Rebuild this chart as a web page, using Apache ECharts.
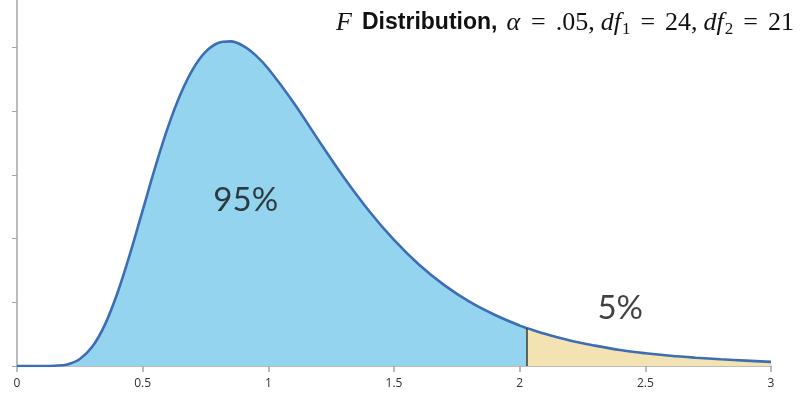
<!DOCTYPE html>
<html>
<head>
<meta charset="utf-8">
<script src="https://cdn.jsdelivr.net/npm/echarts@6/dist/echarts.min.js"></script>
<style>
html,body{margin:0;padding:0;background:#fff;}
#chart{width:803px;height:396px;}
</style>
</head>
<body>
<div id="chart"></div>
<script>
// F distribution density (df1 = 24, df2 = 21)
var xValues = [0, 0.1, 0.15, 0.2, 0.25, 0.3, 0.35, 0.4, 0.45, 0.5, 0.55, 0.6, 0.65, 0.7, 0.75, 0.8, 0.85, 0.9, 0.95, 1.0,
  1.1, 1.2, 1.3, 1.4, 1.5, 1.6, 1.7, 1.8, 1.9, 2.0, 2.03, 2.1, 2.2, 2.3, 2.4, 2.5, 2.6, 2.7, 2.8, 2.9, 3.0];
var density = [0, 0.000, 0.001, 0.005, 0.022, 0.061, 0.130, 0.230, 0.353, 0.489, 0.625, 0.749, 0.853, 0.933, 0.987, 1.015, 1.020, 1.006, 0.976, 0.934,
  0.828, 0.709, 0.593, 0.488, 0.396, 0.318, 0.254, 0.202, 0.161, 0.127, 0.119, 0.101, 0.080, 0.064, 0.050, 0.040, 0.032, 0.026, 0.021, 0.017, 0.013];
var criticalValue = 2.03;
var xTickLabels = ['0', '0.5', '1', '1.5', '2', '2.5', '3'];
var xTickValues = [0, 0.5, 1, 1.5, 2, 2.5, 3];
var yTickValues = [0, 0.2, 0.4, 0.6, 0.8, 1.0];
var regionLabels = ['95%', '5%'];

var full = xValues.map(function (x, i) { return [x, density[i]]; });
var body = full.filter(function (p) { return p[0] <= criticalValue; });
var tail = full.filter(function (p) { return p[0] >= criticalValue; });
var critY = density[xValues.indexOf(criticalValue)];

var chart = echarts.init(document.getElementById('chart'));
var SM = 0.35;
var serif = 'Liberation Serif';
chart.setOption({
  animation: false,
  backgroundColor: '#ffffff',
  title: {
    right: -2, top: 3,
    text: '{m|F}{b|Distribution,}{m|α}{e|=}{n|.05,}{m|df}{s|1}{e|=}{n|24,}{m|df}{s|2}{e|=}{n|21}',
    textStyle: {
      fontWeight: 'normal',
      rich: {
        m: { fontFamily: serif, fontStyle: 'italic', fontWeight: 'normal', fontSize: 26, color: '#111', lineHeight: 30, padding: [0, 1, 0, 0] },
        b: { fontFamily: 'Liberation Sans', fontWeight: 'bold', fontSize: 23, color: '#111', lineHeight: 30, padding: [0, 9, 0, 9] },
        n: { fontFamily: serif, fontWeight: 'normal', fontSize: 26, color: '#111', lineHeight: 30, padding: [0, 6, 0, 0] },
        e: { fontFamily: serif, fontWeight: 'normal', fontSize: 26, color: '#111', lineHeight: 30, padding: [0, 10, 0, 10] },
        s: { fontFamily: serif, fontWeight: 'normal', fontSize: 17, color: '#111', lineHeight: 12, verticalAlign: 'bottom' }
      }
    }
  },
  grid: { left: 17, right: 32, top: 0, bottom: 30, containLabel: false },
  xAxis: {
    type: 'value', min: 0, max: 3, interval: 0.5,
    axisLine: { show: true, lineStyle: { color: '#a6a6a6', width: 1.5 } },
    axisTick: { show: true, length: 6, lineStyle: { color: '#a6a6a6', width: 1.5 } },
    splitLine: { show: false },
    axisLabel: {
      margin: 12, fontSize: 12, color: '#303030', fontFamily: 'Open Sans',
      formatter: function (v) { var i = xTickValues.indexOf(v); return i >= 0 ? xTickLabels[i] : ''; }
    }
  },
  yAxis: {
    type: 'value', min: 0, max: 1.15,
    axisLine: { show: true, onZero: false, lineStyle: { color: '#a6a6a6', width: 1.5 } },
    axisTick: { show: true, length: 5, customValues: yTickValues, lineStyle: { color: '#a6a6a6', width: 1 } },
    axisLabel: { show: false },
    splitLine: { show: false }
  },
  series: [
    {
      type: 'line', data: body, smooth: SM, symbol: 'none', silent: true,
      lineStyle: { width: 0 },
      areaStyle: { color: '#95d4ee', opacity: 1 },
      z: 2
    },
    {
      type: 'line', data: tail, smooth: SM, symbol: 'none', silent: true,
      lineStyle: { width: 0 },
      areaStyle: { color: '#f4e3b2', opacity: 1 },
      z: 2,
      markLine: {
        silent: true, symbol: ['none', 'none'],
        lineStyle: { color: '#3a3a2e', width: 1.5, type: 'solid' },
        label: { show: false },
        data: [[{ coord: [criticalValue, 0] }, { coord: [criticalValue, critY] }]]
      }
    },
    {
      type: 'line', data: full, smooth: SM, symbol: 'none', silent: true,
      lineStyle: { color: '#3d6db5', width: 2.6 },
      z: 4
    },
    {
      type: 'scatter', symbolSize: 0, silent: true, z: 5,
      data: [[0.91, 0.52, regionLabels[0]], [2.40, 0.182, regionLabels[1]]],
      label: {
        show: true, position: 'inside',
        formatter: function (p) { return p.data[2]; },
        fontFamily: 'Lato', fontSize: 33, color: '#111111'
      }
    }
  ]
});
</script>
</body>
</html>
